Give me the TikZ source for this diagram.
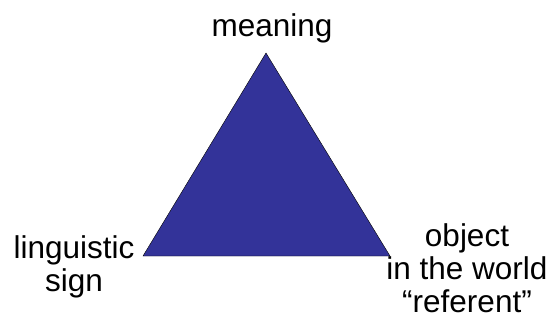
\documentclass[tikz,border=0pt]{standalone}
\usepackage{fontspec}
\setmainfont{Liberation Sans}
\usepackage{tikz}
\usetikzlibrary{calc}
\definecolor{triblue}{HTML}{333399}
\def\lbl{\fontsize{31.5}{33}\selectfont}

\begin{document}
\begin{tikzpicture}[x=1pt,y=1pt]
	\useasboundingbox (0,0) rectangle (549,322);
    \coordinate (top) at (266,269);
    \coordinate (left) at (143,66);
    \coordinate (right) at (390,66);
	\draw[thin,fill=triblue] (top)--(left)--(right)--cycle;
    \node (meaning)[anchor=north,inner sep=0pt,font=\lbl] at (272,309){meaning};
     \node (sign)[anchor=north,inner sep=0pt,align=center,font=\lbl] at (74,87){linguistic\\sign};
      \node (object)[anchor=north,inner sep=0pt,align=center,font=\lbl] at (467,99){object\\in the world\\“referent”};

	\end{tikzpicture}
\end{document}
